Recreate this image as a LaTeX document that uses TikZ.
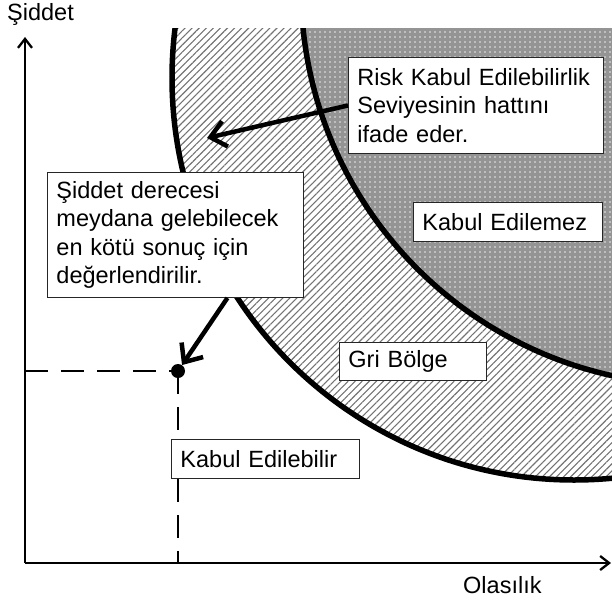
\documentclass[tikz,border=0pt]{standalone}
\usepackage{fontspec}
\setmainfont{Liberation Sans}
\usetikzlibrary{arrows.meta,patterns.meta}
\begin{document}
\begin{tikzpicture}[x=1pt,y=-1pt,
  every node/.style={font=\fontsize{23.5}{28.5}\selectfont},
  callout/.style={draw=black!85, line width=0.9pt, fill=white, anchor=north west,
    align=left, inner xsep=9pt, inner ysep=0pt},
  axis/.style={line width=2.3pt, -{Straight Barb[length=9pt,width=14pt]}},
  pointer/.style={line width=4.5pt, -{Straight Barb[length=15pt,width=26pt]}},
  guide/.style={line width=2.5pt, dash pattern=on 23pt off 13pt},
  boundary/.style={line width=5.5pt}]
\useasboundingbox (0,0) rectangle (612,602);

% risk regions: grey zone (hatched) and unacceptable zone (dotted grey)
\begin{scope}
  \clip (0,29) rectangle (612,602);
  \fill[pattern={Lines[angle=45,distance=5pt,line width=1.1pt]}, pattern color=black!55]
    (574,78) circle[radius=402pt];
  \fill[black!42] (698,-12) circle[radius=397pt];
  \fill[pattern={Dots[distance=5pt,radius=0.9pt]}, pattern color=black!8]
    (698,-12) circle[radius=397pt];
  \draw[boundary] (574,78) circle[radius=402pt];
  \draw[boundary] (698,-12) circle[radius=397pt];
\end{scope}

% axes
\coordinate (O) at (25,563);
\coordinate (ytop) at (25,37);
\coordinate (xend) at (611,563);
\draw[axis] (O) -- (ytop);
\draw[axis] (O) -- (xend);
\node[anchor=base west, inner sep=0pt] (ylab) at (7,21) {Şiddet};
\node[anchor=base west, inner sep=0pt] (xlab) at (463,593) {Olasılık};

% evaluated point with guide lines
\node[circle, fill=black, minimum size=14pt, inner sep=0pt] (pt) at (178,371) {};
\coordinate (hstart) at (25,371);
\coordinate (vend) at (178,563);
\draw[guide] (hstart) -- (pt.center);
\draw[guide] (pt.center) -- (vend);

% labels and callouts
\node[callout, text width=237pt, minimum height=96pt] (risk) at (348,57)
  {Risk Kabul Edilebilirlik\\Seviyesinin hattını\\ifade eder.};
\node[callout, text width=238pt, minimum height=125pt] (worst) at (47,172)
  {Şiddet derecesi\\meydana gelebilecek\\en kötü sonuç için\\değerlendirilir.};
\node[callout, text width=171pt, minimum height=39pt] (unacc) at (413,202) {Kabul Edilemez};
\node[callout, text width=129pt, minimum height=38pt] (grey) at (339,342) {Gri Bölge};
\node[callout, text width=170pt, minimum height=39pt] (acc) at (171,439) {Kabul Edilebilir};

% pointers
\coordinate (hit) at (207,138);
\draw[pointer] (risk.west) -- (hit);
\draw[pointer] ([xshift=52pt]worst.south) -- (pt);
\end{tikzpicture}
\end{document}
